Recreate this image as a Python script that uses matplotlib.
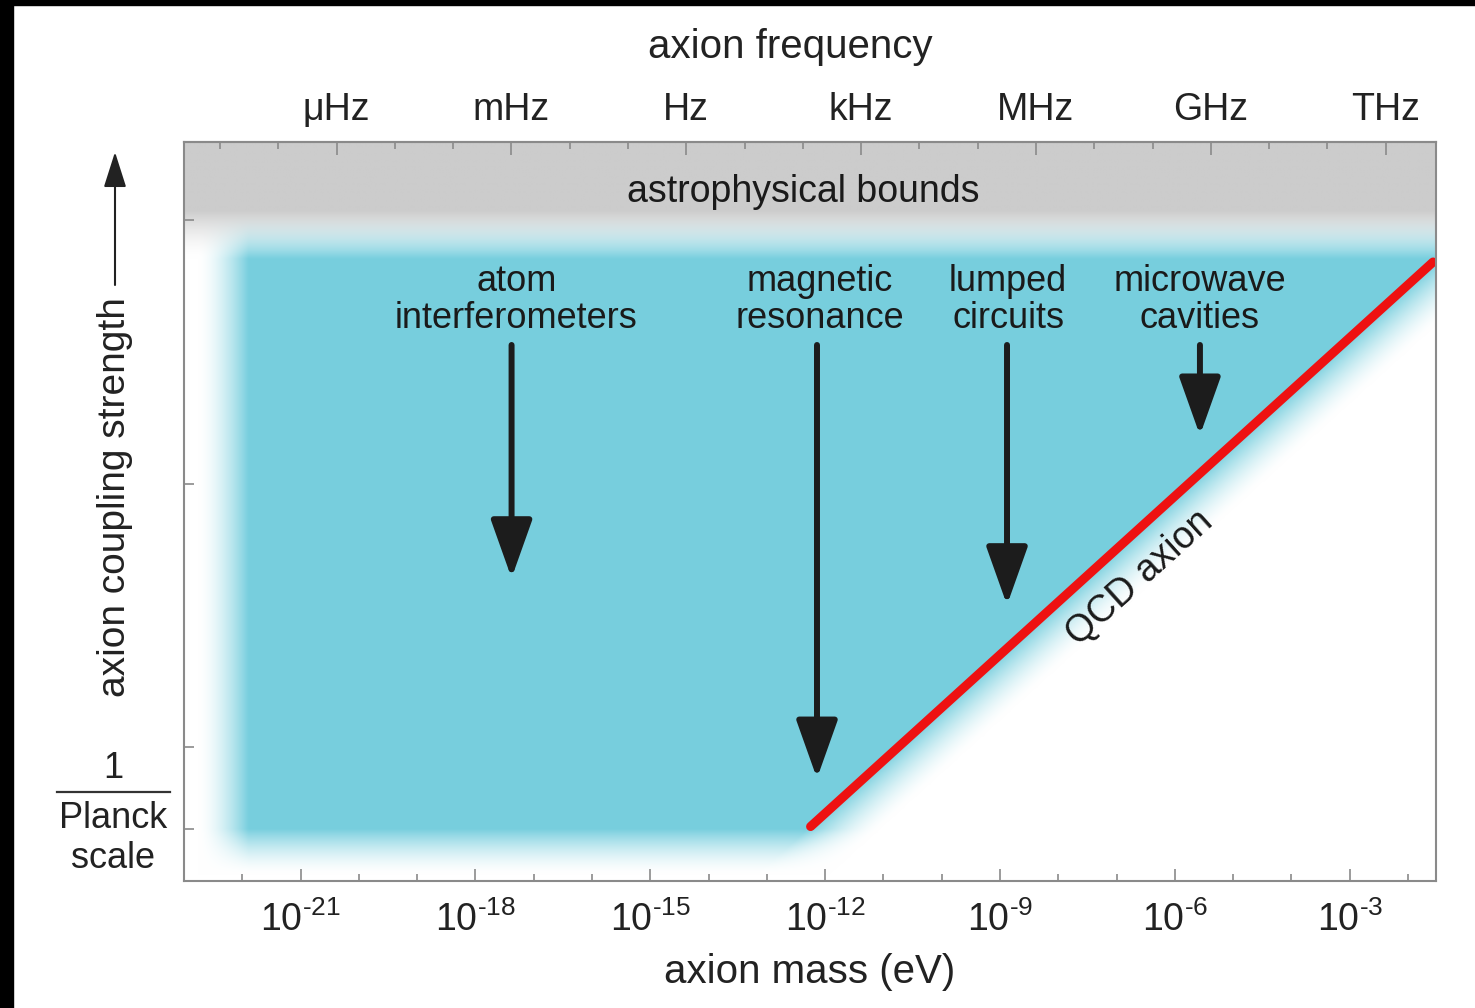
import numpy as np
import matplotlib
matplotlib.use('Agg')
import matplotlib.pyplot as plt
from matplotlib.patches import Rectangle

plt.rcParams['font.family'] = ['Liberation Sans', 'DejaVu Sans']
plt.rcParams['mathtext.fontset'] = 'custom'
plt.rcParams['mathtext.rm'] = 'Liberation Sans'
plt.rcParams['mathtext.it'] = 'Liberation Sans'

# log10(mass / eV) axis
mass_major = [-21, -18, -15, -12, -9, -6, -3]
mass_minor = list(range(-23, -1))
# log10(frequency / Hz) on top axis
freq_major = [-6, -3, 0, 3, 6, 9, 12]
freq_labels = ['μHz', 'mHz', 'Hz', 'kHz', 'MHz', 'GHz', 'THz']
freq_minor = list(range(-8, 13))
ev_to_hz = 14.383  # log10(eV/h in Hz)

# coupling axis (arbitrary log units, 0 = 1/Planck scale)
y_ticks = [0, 1.55, 6.53, 11.52]

# QCD axion line
qcd_mass = [-12.25, -1.57]
qcd_coupling = [0.05, 10.73]

# shaded regions
blue_left = -21.9
blue_top = 10.8
blue_bottom = 0.0
gray_bottom = 11.71

# experiments: label, x, label y, arrow tail, arrow tip
exp_names = ['atom\ninterferometers', 'magnetic\nresonance', 'lumped\ncircuits', 'microwave\ncavities']
exp_label_x = [-17.3, -12.09, -8.86, -5.57]
exp_arrow_x = [-17.38, -12.14, -8.88, -5.57]
exp_tail = [9.16, 9.16, 9.16, 9.16]
exp_tip = [4.75, 0.96, 4.24, 7.45]

xlim = (-23.0, -1.52)
ylim = (-0.98, 13.0)

fig = plt.figure(figsize=(14.75, 10.08), dpi=100)
ax = fig.add_axes([184/1475, 1-881/1008, (1436-184)/1475, (881-142)/1008])
ax.set_xlim(*xlim)
ax.set_ylim(*ylim)

# pixel scales for the soft edges
sx = 1252 / (xlim[1] - xlim[0])
sy = 739 / (ylim[1] - ylim[0])


def fade(d, w):
    t = np.clip(d / w, 0, 1)
    return (1 - t) ** 1.6


xs = np.linspace(xlim[0], xlim[1], 1300)
ys = np.linspace(ylim[0], ylim[1], 800)
X, Y = np.meshgrid(xs, ys)

slope = (qcd_coupling[1] - qcd_coupling[0]) / (qcd_mass[1] - qcd_mass[0])
line_y = qcd_coupling[0] + slope * (X - qcd_mass[0])
cosang = np.cos(np.arctan(sy * slope / sx))
d_diag = (line_y - Y) * sy * cosang

a_blue = (fade((blue_left - X) * sx, 50) * fade((Y - blue_top) * sy, 45)
          * fade((blue_bottom - Y) * sy, 46) * fade(d_diag, 48))
a_gray = fade((gray_bottom - Y) * sy, 48)

gray = np.array([0.80, 0.80, 0.80])
blue = np.array([0.47, 0.81, 0.87])
img = np.ones(X.shape + (3,))
img = img * (1 - a_gray[..., None]) + gray * a_gray[..., None]
img = img * (1 - a_blue[..., None]) + blue * a_blue[..., None]
ax.imshow(img, extent=[xlim[0], xlim[1], ylim[0], ylim[1]], origin='lower',
          aspect='auto', interpolation='bilinear', zorder=0)

# QCD axion line
ax.plot(qcd_mass, qcd_coupling, color='#ee1111', lw=6.5, solid_capstyle='round', zorder=4)
ax.text(-6.6, 4.75, 'QCD axion', rotation=42, ha='center', va='center',
        fontsize=27, color='#1a1a1a', zorder=5)

ax.text(-12.38, 12.05, 'astrophysical bounds', ha='center', va='center',
        fontsize=27, color='#1a1a1a', zorder=5)

for name, lx, axx, tail, tip in zip(exp_names, exp_label_x, exp_arrow_x, exp_tail, exp_tip):
    ax.text(lx, 10.01, name, ha='center', va='center', fontsize=26,
            linespacing=1.08, color='#1a1a1a', zorder=5)
    ax.annotate('', xy=(axx, tip), xytext=(axx, tail),
                arrowprops=dict(arrowstyle='-|>,head_length=1.8,head_width=0.64',
                                mutation_scale=20, lw=4.3, color='#1c1c1c',
                                shrinkA=0, shrinkB=0), zorder=3)

# axes styling
for s in ax.spines.values():
    s.set_color('#8a8a8a')
    s.set_linewidth(1.5)
    s.set_zorder(6)

ax.set_xticks(mass_major)
ax.set_xticklabels(['$10^{\\text{%d}}$' % m for m in mass_major])
ax.set_xticks(mass_minor, minor=True)
ax.set_yticks(y_ticks)
ax.set_yticklabels([])
ax.tick_params(axis='x', which='major', direction='in', length=9, width=1.2,
               color='#8a8a8a', labelsize=27, labelcolor='#222222', pad=15, top=False)
ax.tick_params(axis='x', which='minor', direction='in', length=5, width=1.2,
               color='#8a8a8a', top=False)
ax.tick_params(axis='y', direction='in', length=7, width=1.2, color='#8a8a8a', right=False)

sec = ax.secondary_xaxis('top', functions=(lambda m: m + ev_to_hz, lambda f: f - ev_to_hz))
sec.set_xticks(freq_major)
sec.set_xticklabels(freq_labels)
sec.set_xticks(freq_minor, minor=True)
sec.tick_params(axis='x', which='major', direction='in', length=9, width=1.2,
                color='#8a8a8a', labelsize=27, labelcolor='#222222', pad=10)
sec.tick_params(axis='x', which='minor', direction='in', length=5, width=1.2, color='#8a8a8a')
sec.spines['top'].set_color('#8a8a8a')
sec.spines['top'].set_linewidth(1.5)

# axis titles
fig.text(810/1475, 1-972/1008, 'axion mass (eV)', ha='center', va='center',
         fontsize=29, color='#222222')
fig.text(790/1475, 1-47/1008, 'axion frequency', ha='center', va='center',
         fontsize=29, color='#222222')
fig.text(115/1475, 1-497/1008, 'axion coupling strength', rotation=90,
         ha='center', va='center', fontsize=28, color='#222222')
ax.annotate('', xy=(115/1475, 1-152/1008), xytext=(115/1475, 1-285/1008),
            xycoords='figure fraction', textcoords='figure fraction',
            arrowprops=dict(arrowstyle='-|>,head_length=1.1,head_width=0.35',
                            mutation_scale=20, lw=1.5, color='#222222',
                            shrinkA=0, shrinkB=0))

# 1 / Planck scale label
fig.text(113/1475, 1-768/1008, '1', ha='center', va='center', fontsize=26, color='#222222')
fig.add_artist(plt.Line2D([57/1475, 170/1475], [1-792/1008, 1-792/1008],
                          color='#333333', lw=1.6, transform=fig.transFigure))
fig.text(113/1475, 1-818/1008, 'Planck', ha='center', va='center', fontsize=26, color='#222222')
fig.text(113/1475, 1-858/1008, 'scale', ha='center', va='center', fontsize=26, color='#222222')

# black frame edges of the original screenshot
fig.patches.append(Rectangle((0, 1-5/1008), 1, 5/1008, transform=fig.transFigure,
                             color='black', zorder=10))
fig.patches.append(Rectangle((0, 0), 13/1475, 1, transform=fig.transFigure,
                             color='black', zorder=10))

fig.savefig('out.png', dpi=100)
